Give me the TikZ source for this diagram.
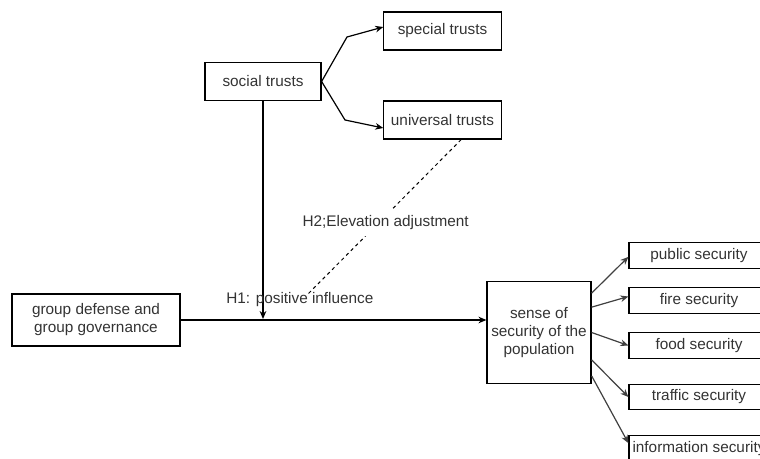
\documentclass[tikz,border=0pt]{standalone}
\usepackage{fontspec}
\setmainfont{Liberation Sans}
\usetikzlibrary{arrows.meta}
\tikzset{
	tbox/.style={draw,rectangle,inner sep=0pt,align=center,text=black!80},
	sbox/.style={tbox,minimum width=105pt,minimum height=19pt},
}
\begin{document}
\begin{tikzpicture}[x=0.75pt,y=-0.75pt,>={Stealth[length=6pt,width=5pt]},line width=0.9pt,font=\fontsize{11.5}{13.5}\selectfont]
		\clip (0,0) rectangle (760,459);
		\path
		+(263,81.5)  node[tbox,minimum width=87pt,minimum height=29pt]  (social) {social trusts}
		+(442.5,31)  node[tbox,minimum width=88pt,minimum height=28.5pt]  (special) {special trusts}
		+(442.5,120)  node[tbox,minimum width=88pt,minimum height=28.5pt]  (universal) {universal trusts}
		+(96,320)  node[tbox,minimum width=126pt,minimum height=39pt]  (group) {group defense and\\group governance}
		+(539,332.5)  node[tbox,minimum width=78pt,minimum height=77pt]  (sense) {sense of\\security of the\\population}
		+(699,255.5)  node[sbox]  (public) {public security}
		+(699,300.5)  node[sbox]  (fire) {fire security}
		+(699,345.5)  node[sbox]  (food) {food security}
		+(699,397)  node[sbox]  (traffic) {traffic security}
		+(699,448.5)  node[sbox]  (info) {information security}
		;
		\coordinate (meet) at (263,319);
		\coordinate (h2end) at (307,295);
		\draw[->] (social.east) -- (347,37) -- ([yshift=3pt]special.west);
		\draw[->] (social.east) -- (345,120) -- ([yshift=-6pt]universal.west);
		\draw[->] (social.south) -- (meet);
		\draw[->] (group.east) -- (group.east -| sense.west) node[pos=.39,above=6pt,text=black!80]{H1: positive influence};
		\draw[dash pattern=on 2.5pt off 2.5pt,line width=0.75pt] ([xshift=14pt]universal.south) -- (h2end) node[pos=.49,yshift=-5pt,fill=white,inner sep=5pt,text=black!80]{H2;Elevation adjustment};
		\draw[->,black!75] ([yshift=29.5pt]sense.east) -- ([yshift=-1pt]public.west);
		\draw[->,black!75] ([yshift=19pt]sense.east) -- ([yshift=3pt]fire.west);
		\draw[->,black!75] (sense.east) -- (food.west);
		\draw[->,black!75] ([yshift=-20.5pt]sense.east) -- (traffic.west);
		\draw[->,black!75] ([yshift=-32.5pt]sense.east) -- ([yshift=4pt]info.west);
		\end{tikzpicture}
\end{document}
